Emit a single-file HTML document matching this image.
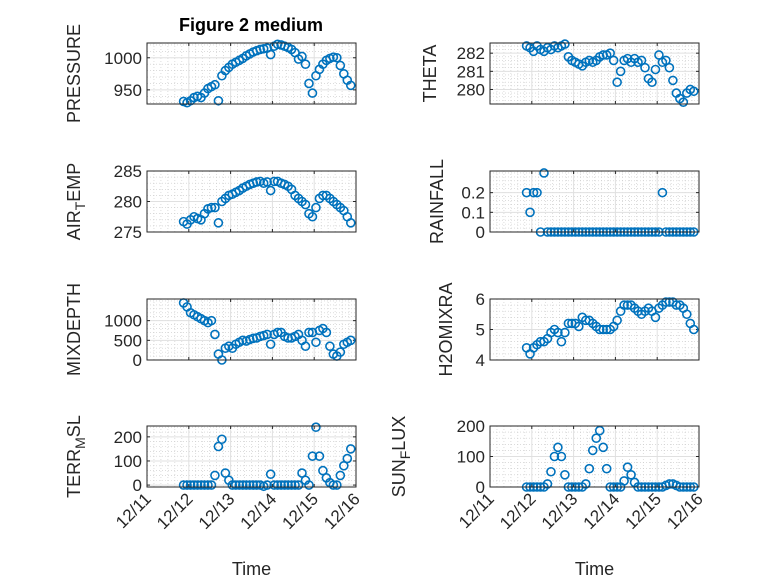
<!DOCTYPE html>
<html><head><meta charset="utf-8"><style>
html,body{margin:0;padding:0;background:#fff;}
svg{display:block;font-family:"Liberation Sans",sans-serif;}
</style></head><body>
<svg id="fig" width="778" height="583" viewBox="0 0 778 583">
<rect width="778" height="583" fill="#fff"/>
<text x="251" y="31" text-anchor="middle" font-size="18" font-weight="bold" fill="#000">Figure 2 medium</text>
</svg>
<script>
const timeHours=[21,23,25,27,29,31,33,35,37,39,41,43,45,47,49,51,53,55,57,59,61,63,65,67,69,71,73,75,77,79,81,83,85,87,89,91,93,95,97,99,101,103,105,107,109,111,113,115,117];
const xTickLabels=["12/11","12/12","12/13","12/14","12/15","12/16"];
const pressure=[932,930,933,938,940,938,945,952,955,958,933,972,980,985,990,993,996,999,1003,1006,1009,1011,1013,1014,1015,1005,1018,1021,1020,1018,1016,1013,1008,998,1002,990,960,945,972,982,990,996,999,1001,1000,988,975,965,957];
const theta=[282.4,282.3,282.1,282.4,282.2,282.1,282.3,282.2,282.4,282.3,282.4,282.5,281.8,281.6,281.5,281.4,281.3,281.5,281.6,281.5,281.6,281.8,281.9,281.9,282.0,281.6,280.4,281.0,281.6,281.7,281.5,281.7,281.5,281.6,281.2,280.6,280.4,281.1,281.9,281.5,281.6,281.2,280.5,279.8,279.5,279.3,279.8,280.0,279.9];
const airTemp=[276.7,276.3,277,277.5,277.2,277,278,278.8,279,279,276.5,280,280.5,281,281.2,281.5,281.8,282.2,282.5,282.8,283,283.2,283.3,283,283.2,281.8,283.3,283.3,283,282.8,282.5,282,281,280.5,280,279.5,278,277.5,279,280.5,281,281,280.5,280,279.5,279,278.5,277.5,276.5];
const rainfall=[0.2,0.1,0.2,0.2,0,0.3,0,0,0,0,0,0,0,0,0,0,0,0,0,0,0,0,0,0,0,0,0,0,0,0,0,0,0,0,0,0,0,0,0,0.2,0,0,0,0,0,0,0,0,0];
const mixDepth=[1450,1350,1200,1150,1100,1050,1000,950,1000,650,150,0,300,350,300,400,450,500,480,520,550,560,600,620,650,400,650,700,700,600,560,560,600,650,500,350,700,700,450,750,800,700,350,150,100,200,400,450,500];
const h2oMix=[4.4,4.2,4.4,4.5,4.6,4.6,4.7,4.9,5.0,4.9,4.6,4.9,5.2,5.2,5.2,5.1,5.4,5.3,5.3,5.2,5.1,5.0,5.0,5.0,5.0,5.1,5.3,5.6,5.8,5.8,5.8,5.7,5.6,5.5,5.6,5.7,5.6,5.4,5.7,5.8,5.9,5.9,5.9,5.8,5.8,5.7,5.5,5.2,5.0];
const terrMsl=[0,0,0,0,0,0,0,0,0,40,160,190,50,20,0,0,0,0,0,0,0,0,0,-5,0,45,0,0,0,0,0,0,0,0,50,20,0,120,240,120,60,30,10,0,0,40,80,110,150];
const sunFlux=[0,0,0,0,0,0,10,50,100,130,100,40,0,0,0,0,0,10,60,120,160,185,130,60,0,0,0,0,20,65,40,15,0,0,0,0,0,0,0,0,5,10,10,5,0,0,0,0,0];
const pressureTicks=[950,1000], thetaTicks=[280,281,282], airTicks=[275,280,285], rainTicks=[0,0.1,0.2], mixTicks=[0,500,1000], h2oTicks=[4,5,6], terrTicks=[0,100,200], sunTicks=[0,100,200];

const NS="http://www.w3.org/2000/svg";
const svg=document.getElementById('fig');
function mk(tag,attrs,parent){const e=document.createElementNS(NS,tag);for(const k in attrs)e.setAttribute(k,attrs[k]);(parent||svg).appendChild(e);return e;}

const panels=[
 {key:'pressure',x:147,y:43,w:209,h:61,ymin:928,ymax:1023,minor:10,ticks:pressureTicks,data:pressure,label:['PRESSURE'],lx:80},
 {key:'theta',x:490,y:43,w:209,h:61,ymin:279.2,ymax:282.56,minor:0.2,ticks:thetaTicks,data:theta,label:['THETA'],lx:436},
 {key:'air-temp',x:147,y:171,w:209,h:61,ymin:275,ymax:285,minor:1,ticks:airTicks,data:airTemp,label:['AIR','T','EMP'],lx:80},
 {key:'rainfall',x:490,y:171,w:209,h:61,ymin:0,ymax:0.31,minor:0.02,ticks:rainTicks,data:rainfall,label:['RAINFALL'],lx:443},
 {key:'mixdepth',x:147,y:299,w:209,h:61,ymin:0,ymax:1550,minor:100,ticks:mixTicks,data:mixDepth,label:['MIXDEPTH'],lx:80},
 {key:'h2omixra',x:490,y:299,w:209,h:61,ymin:4,ymax:6,minor:0.2,ticks:h2oTicks,data:h2oMix,label:['H2OMIXRA'],lx:452},
 {key:'terr-msl',x:147,y:426,w:209,h:61,ymin:-8,ymax:245,minor:20,ticks:terrTicks,data:terrMsl,label:['TERR','M','SL'],lx:80,xlab:true},
 {key:'sun-flux',x:490,y:426,w:209,h:61,ymin:0,ymax:200,minor:20,ticks:sunTicks,data:sunFlux,label:['SUN','F','LUX'],lx:405,xlab:true}
];

panels.forEach(p=>{
  const g=mk('g',{});
  
  
  const xs=h=>p.x+(h/120)*p.w;
  const ys=v=>p.y+p.h-(v-p.ymin)/(p.ymax-p.ymin)*p.h;
  mk('rect',{x:p.x,y:p.y,width:p.w,height:p.h,fill:'#fff'},g);
  for(let hh=4;hh<120;hh+=4){ if(hh%24===0)continue; mk('line',{x1:xs(hh),x2:xs(hh),y1:p.y,y2:p.y+p.h,stroke:'#c8c8c8','stroke-width':0.6,'stroke-dasharray':'1 2'},g);}
  const m0=Math.ceil(p.ymin/p.minor-1e-9);
  for(let i=m0;i*p.minor<=p.ymax+1e-9;i++){const v=i*p.minor;const yy=ys(v);if(yy<p.y+0.5||yy>p.y+p.h-0.5)continue;mk('line',{x1:p.x,x2:p.x+p.w,y1:yy,y2:yy,stroke:'#c8c8c8','stroke-width':0.6,'stroke-dasharray':'1 2'},g);}
  for(let d=1;d<5;d++){mk('line',{x1:xs(d*24),x2:xs(d*24),y1:p.y,y2:p.y+p.h,stroke:'#e0e0e0','stroke-width':1},g);}
  p.ticks.forEach(v=>{const yy=ys(v);mk('line',{x1:p.x,x2:p.x+p.w,y1:yy,y2:yy,stroke:'#e0e0e0','stroke-width':1},g);
    mk('line',{x1:p.x,x2:p.x+3,y1:yy,y2:yy,stroke:'#262626'},g);mk('line',{x1:p.x+p.w,x2:p.x+p.w-3,y1:yy,y2:yy,stroke:'#262626'},g);
    const t=mk('text',{x:p.x-5,y:yy+6,'text-anchor':'end','font-size':17,fill:'#262626'},g);t.textContent=String(v);
    
    
  });
  for(let d=0;d<=5;d++){const xx=xs(d*24);mk('line',{x1:xx,x2:xx,y1:p.y+p.h,y2:p.y+p.h-3,stroke:'#262626'},g);mk('line',{x1:xx,x2:xx,y1:p.y,y2:p.y+3,stroke:'#262626'},g);
    if(p.xlab){const t=mk('text',{x:xx+5,y:p.y+p.h+13,'text-anchor':'end','font-size':17,fill:'#262626',transform:`rotate(-45 ${xx+5} ${p.y+p.h+13})`},g);t.textContent=xTickLabels[d];
      
      }
  }
  p.data.forEach((v,i)=>{const c=mk('circle',{cx:xs(timeHours[i]),cy:ys(v),r:4,fill:'none',stroke:'#0072BD','stroke-width':1.6},g);
    
    });
  mk('rect',{x:p.x,y:p.y,width:p.w,height:p.h,fill:'none',stroke:'#262626','stroke-width':1},g);
  const cy=p.y+p.h/2;
  const yl=mk('text',{x:p.lx,y:cy,'text-anchor':'middle','font-size':18,fill:'#262626',transform:`rotate(-90 ${p.lx} ${cy})`},g);
  
  
  if(p.label.length===1){yl.textContent=p.label[0];}
  else{const a=mk('tspan',{},yl);a.textContent=p.label[0];const b=mk('tspan',{dy:5,'font-size':14},yl);b.textContent=p.label[1];const c=mk('tspan',{dy:-5},yl);c.textContent=p.label[2];}
  if(p.xlab){const t=mk('text',{x:p.x+p.w/2,y:575,'text-anchor':'middle','font-size':18,fill:'#262626'},g);t.textContent='Time';
    
    }
});
</script>
</body></html>
